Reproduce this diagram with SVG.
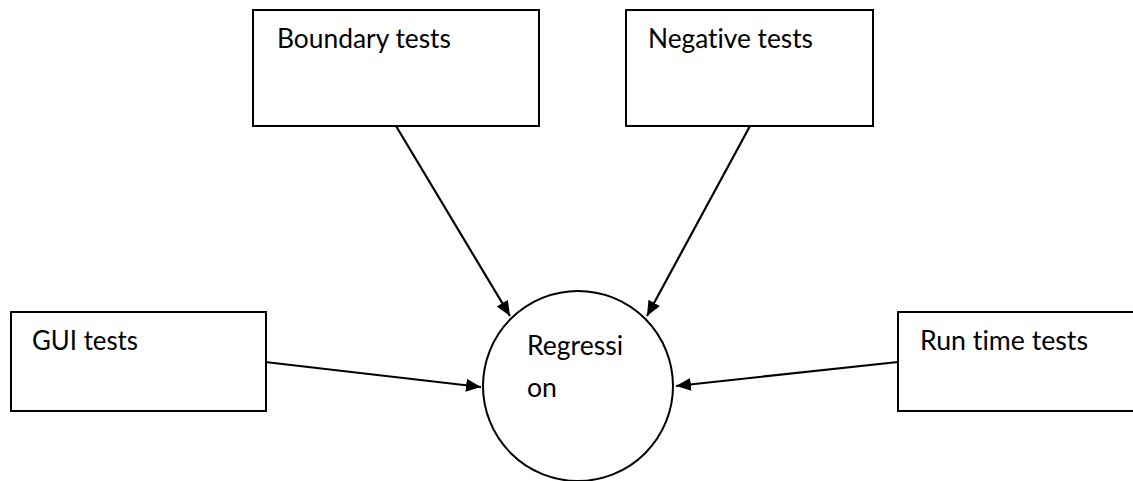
<svg xmlns="http://www.w3.org/2000/svg" width="1133" height="481" viewBox="0 0 1133 481">
  <style>
    .box { fill: #ffffff; stroke: #000000; stroke-width: 2; }
    .lbl { font-family: Lato, "Open Sans", "Liberation Sans", sans-serif; font-size: 27px; fill: #000000; font-variant-ligatures: none; }
    .conn { stroke: #000000; stroke-width: 2.2; fill: none; marker-end: url(#arrow); }
  </style>
  <defs>
    <marker id="arrow" viewBox="0 0 15 13" refX="15" refY="6.5" markerWidth="15" markerHeight="13" markerUnits="userSpaceOnUse" orient="auto">
      <path d="M0,0 L15,6.5 L0,13 z" fill="#000000"/>
    </marker>
  </defs>
  <rect width="1133" height="481" fill="#ffffff"/>

  <g id="connectors">
    <line class="conn" x1="396" y1="126" x2="510" y2="316"/>
    <line class="conn" x1="750" y1="126" x2="647" y2="316"/>
    <line class="conn" x1="265" y1="362" x2="481" y2="387"/>
    <line class="conn" x1="898" y1="362" x2="676" y2="386"/>
  </g>

  <g id="boundary-tests">
    <rect class="box" x="253" y="10" width="286" height="116"/>
    <text class="lbl" x="277" y="48" textLength="174" lengthAdjust="spacingAndGlyphs">Boundary tests</text>
  </g>

  <g id="negative-tests">
    <rect class="box" x="626" y="10" width="247" height="116"/>
    <text class="lbl" x="648" y="48" textLength="165" lengthAdjust="spacingAndGlyphs">Negative tests</text>
  </g>

  <g id="gui-tests">
    <rect class="box" x="11" y="312" width="255" height="99"/>
    <text class="lbl" x="32" y="350" textLength="106" lengthAdjust="spacingAndGlyphs">GUI tests</text>
  </g>

  <g id="run-time-tests">
    <rect class="box" x="898" y="312" width="250" height="99"/>
    <text class="lbl" x="920" y="350" textLength="168" lengthAdjust="spacingAndGlyphs">Run time tests</text>
  </g>

  <g id="regression">
    <circle class="box" cx="578" cy="386" r="95"/>
    <text class="lbl" x="527" y="355" textLength="96" lengthAdjust="spacingAndGlyphs">Regressi</text>
    <text class="lbl" x="527" y="397" textLength="30" lengthAdjust="spacingAndGlyphs">on</text>
  </g>
</svg>
